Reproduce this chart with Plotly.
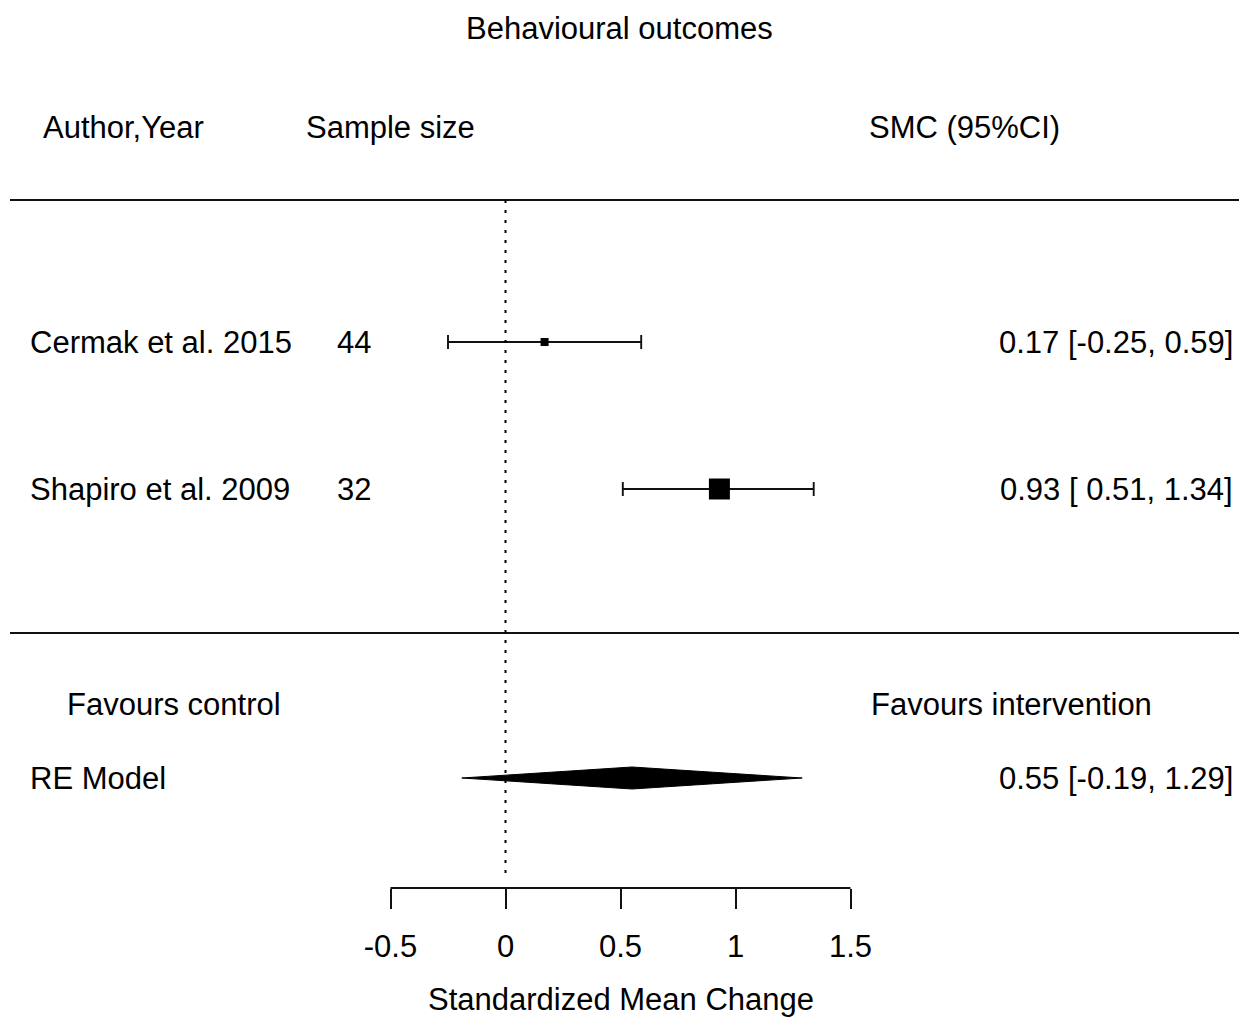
import plotly.graph_objects as go

# ---------------- data ----------------
studies = ["Cermak et al. 2015", "Shapiro et al. 2009"]
sample_size = [44, 32]
smc = [0.17, 0.93]
ci_lower = [-0.25, 0.51]
ci_upper = [0.59, 1.34]
re_label = "RE Model"
re_smc = 0.55
re_lower = -0.19
re_upper = 1.29
tick_values = [-0.5, 0, 0.5, 1, 1.5]
tick_labels = ["-0.5", "0", "0.5", "1", "1.5"]
title_text = "Behavioural outcomes"
headers = ["Author,Year", "Sample size", "SMC (95%CI)"]
favours = ["Favours control", "Favours intervention"]
x_title = "Standardized Mean Change"

# ---------------- layout helpers (pixel calibration) ----------------
W, H = 1239, 1018
PX_PER_UNIT = 230.0
X0_PX = 505.5
ROW_PX = 147.0
ROW1_PX = 489.0


def ypx(py):
    return 1 + (ROW1_PX - py) / ROW_PX


def xpx(px):
    return (px - X0_PX) / PX_PER_UNIT


x_range = [xpx(0), xpx(W)]
y_range = [ypx(H), ypx(0)]

study_rows = [len(studies) - i for i in range(len(studies))]
re_row = ypx(778)
diamond_half = 11 / ROW_PX
marker_sizes = [8, 21]

FONT = dict(family="Liberation Sans, Arial, Helvetica, sans-serif", size=31, color="black")

fig = go.Figure()

# study estimates with CIs
for i in range(len(studies)):
    fig.add_trace(go.Scatter(
        x=[smc[i]], y=[study_rows[i]], mode="markers",
        marker=dict(symbol="square", size=marker_sizes[i], color="black",
                    line=dict(width=0)),
        error_x=dict(type="data", symmetric=False,
                     array=[ci_upper[i] - smc[i]],
                     arrayminus=[smc[i] - ci_lower[i]],
                     color="#111", thickness=1.9, width=7),
        showlegend=False, hoverinfo="skip"))

# RE model diamond
fig.add_trace(go.Scatter(
    x=[re_lower, re_smc, re_upper, re_smc, re_lower],
    y=[re_row, re_row + diamond_half, re_row, re_row - diamond_half, re_row],
    mode="lines", fill="toself", fillcolor="black",
    line=dict(color="black", width=1), showlegend=False, hoverinfo="skip"))

shapes = []
# horizontal separators
for py in (200, 633):
    shapes.append(dict(type="line", xref="paper", yref="y", x0=10 / W, x1=1,
                       y0=ypx(py), y1=ypx(py), line=dict(color="#111", width=2)))
# reference line at 0
shapes.append(dict(type="line", xref="x", yref="y", x0=0, x1=0,
                   y0=ypx(200), y1=ypx(876),
                   line=dict(color="black", width=2, dash="3px,7px")))
# axis line
shapes.append(dict(type="line", xref="x", yref="y", x0=tick_values[0], x1=tick_values[-1],
                   y0=ypx(888), y1=ypx(888), line=dict(color="#111", width=2)))

ann = []


def add_text(x, y, text, xanchor="left", xref="x"):
    ann.append(dict(x=x, y=y, xref=xref, yref="y", text=text, showarrow=False,
                    xanchor=xanchor, yanchor="middle", font=FONT))


add_text(0.5, ypx(28), title_text, xanchor="center", xref="paper")
add_text(xpx(41), ypx(127), headers[0])
add_text(xpx(304), ypx(127), headers[1])
add_text(xpx(867), ypx(127), headers[2])

for i in range(len(studies)):
    add_text(xpx(28), study_rows[i], studies[i])
    add_text(xpx(335), study_rows[i], str(sample_size[i]))
    add_text(xpx(1235), study_rows[i],
             f"{smc[i]:.2f} [{ci_lower[i]: .2f}, {ci_upper[i]:.2f}]", xanchor="right")

add_text(xpx(174), ypx(704), favours[0], xanchor="center")
add_text(xpx(1011), ypx(704), favours[1], xanchor="center")
add_text(xpx(28), re_row, re_label)
add_text(xpx(1235), re_row, f"{re_smc:.2f} [{re_lower: .2f}, {re_upper:.2f}]", xanchor="right")
add_text((tick_values[0] + tick_values[-1]) / 2, ypx(999), x_title, xanchor="center")

fig.update_layout(
    width=W, height=H,
    margin=dict(l=0, r=0, t=0, b=0),
    paper_bgcolor="white", plot_bgcolor="white",
    font=FONT,
    shapes=shapes, annotations=ann,
    xaxis=dict(range=x_range, tickvals=tick_values, ticktext=tick_labels,
               ticks="outside", ticklen=20, tickwidth=2, tickcolor="#111",
               showline=False, showgrid=False, zeroline=False,
               anchor="free", position=(H - 888) / H, side="bottom",
               ticklabelstandoff=11, tickfont=FONT, fixedrange=True),
    yaxis=dict(range=y_range, visible=False, showgrid=False, zeroline=False,
               fixedrange=True),
)

fig.write_html("out.html", post_script="document.body.style.margin='0';",
               config={"displayModeBar": False})
